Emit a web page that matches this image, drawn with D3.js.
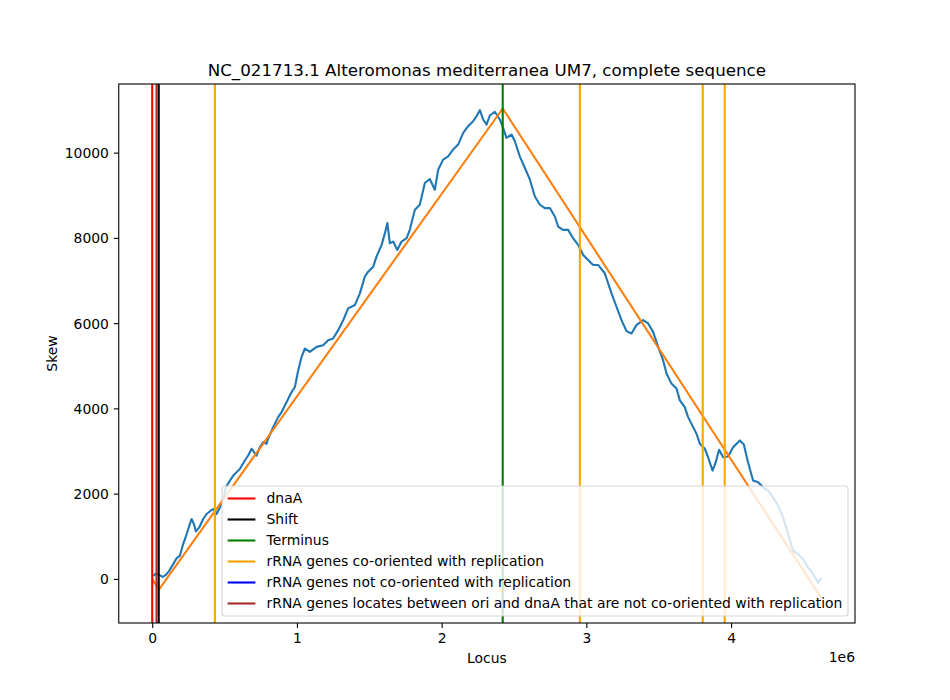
<!DOCTYPE html>
<html>
<head>
<meta charset="utf-8">
<script src="https://cdn.jsdelivr.net/npm/d3@7.9.0/dist/d3.min.js"></script>
<style>
  body { margin: 0; background: #fff; }
  svg { font-family: 'DejaVu Sans', sans-serif; }
</style>
</head>
<body>
<div id="chart"></div>
<script>
// cumulative skew, locus in bp
const skewLocus = [
  7000, 26000, 48000, 72000, 95000, 117000, 145000, 169000, 191000, 214000,
  238000, 260000, 272000, 288000, 302000, 325000, 352000, 376000, 410000, 426000,
  445000, 468000, 491000, 509000, 537000, 560000, 606000, 640000, 663000, 687000,
  721000, 744000, 767000, 790000, 801000, 836000, 870000, 894000, 929000, 963000,
  986000, 1009000, 1032000, 1055000, 1089000, 1136000, 1181000, 1216000, 1250000, 1285000,
  1320000, 1354000, 1400000, 1435000, 1469000, 1492000, 1527000, 1550000, 1585000, 1608000,
  1625000, 1642000, 1665000, 1693000, 1723000, 1758000, 1780000, 1815000, 1849000, 1884000,
  1918000, 1953000, 1976000, 2010000, 2045000, 2079000, 2114000, 2149000, 2183000, 2218000,
  2241000, 2264000, 2287000, 2310000, 2333000, 2367000, 2402000, 2425000, 2448000, 2483000,
  2506000, 2540000, 2575000, 2610000, 2644000, 2679000, 2713000, 2748000, 2782000, 2805000,
  2839000, 2874000, 2908000, 2943000, 2978000, 3012000, 3047000, 3081000, 3127000, 3174000,
  3208000, 3243000, 3277000, 3312000, 3346000, 3392000, 3427000, 3461000, 3496000, 3530000,
  3554000, 3588000, 3623000, 3646000, 3680000, 3703000, 3738000, 3761000, 3784000, 3819000,
  3841000, 3872000, 3894000, 3917000, 3945000, 3979000, 4014000, 4060000, 4088000, 4117000,
  4152000, 4187000, 4221000, 4256000, 4290000, 4325000, 4359000, 4394000, 4428000, 4463000,
  4497000, 4532000, 4567000, 4601000, 4625000
];
const skewValue = [
  71, 125, 94, 47, 94, 188, 346, 487, 541, 817,
  1052, 1287, 1405, 1287, 1113, 1207, 1405, 1522, 1616, 1640,
  1522, 1678, 1875, 2148, 2306, 2424, 2581, 2777, 2894, 3052,
  2894, 3090, 3207, 3169, 3287, 3560, 3795, 3913, 4148, 4384,
  4501, 4894, 5207, 5405, 5325, 5443, 5482, 5600, 5640, 5835,
  6071, 6346, 6424, 6699, 7090, 7207, 7325, 7560, 7836, 8111,
  8346, 7875, 7913, 7718, 7913, 7993, 8188, 8659, 8777, 9287,
  9381, 9130, 9600, 9835, 9913, 10071, 10188, 10464, 10619, 10737,
  10854, 10995, 10777, 10659, 10871, 10958, 10777, 10582, 10346, 10424,
  10266, 9913, 9640, 9365, 8972, 8777, 8699, 8699, 8501, 8266,
  8188, 8188, 7993, 7836, 7600, 7482, 7365, 7365, 7170, 6699,
  6384, 6071, 5812, 5758, 5953, 6071, 5993, 5795, 5442, 5130,
  4817, 4581, 4464, 4188, 4031, 3795, 3560, 3405, 3170, 3052,
  2854, 2541, 2737, 3028, 2854, 2871, 3090, 3247, 3153, 2737,
  2306, 2266, 2148, 2071, 1913, 1718, 1442, 1052, 659, 581,
  464, 266, 111, -87, 31
];

// fitted model
const fitLocus = [0, 46000, 2422000, 4625000];
const fitValue = [0, -250, 11035, -460];

// markers
const dnaA = [0];
const shift = [45000];
const terminus = [2422000];
const rrnaCo = [433000, 2955000, 3804000, 3956000];
const rrnaNotCo = [];
const rrnaBetween = [30000];

const legendLabels = [
  'dnaA', 'Shift', 'Terminus',
  'rRNA genes co-oriented with replication',
  'rRNA genes not co-oriented with replication',
  'rRNA genes locates between ori and dnaA that are not co-oriented with replication'
];
const legendColors = ['red', 'black', 'green', 'orange', 'blue', 'brown'];

const xTicks = [0, 1e6, 2e6, 3e6, 4e6];
const yTicks = [0, 2000, 4000, 6000, 8000, 10000];

const width = 950;
const height = 700;
const usableArea = { left: 118.75, right: 855, top: 84, bottom: 623 };

const svg = d3.select('#chart')
  .append('svg')
  .attr('width', width)
  .attr('height', height);

svg.append('rect').attr('width', width).attr('height', height).attr('fill', '#fff');

// matplotlib-ish 5% margins
const xExt = d3.extent(skewLocus.concat(fitLocus));
const yExt = d3.extent(skewValue.concat(fitValue));
const xPad = (xExt[1] - xExt[0]) * 0.05;
const yPad = (yExt[1] - yExt[0]) * 0.05;

const xScale = d3.scaleLinear()
  .domain([xExt[0] - xPad, xExt[1] + xPad])
  .range([usableArea.left, usableArea.right]);
const yScale = d3.scaleLinear()
  .domain([yExt[0] - yPad, yExt[1] + yPad])
  .range([usableArea.bottom, usableArea.top]);

svg.append('defs').append('clipPath').attr('id', 'clip')
  .append('rect')
  .attr('x', usableArea.left).attr('y', usableArea.top)
  .attr('width', usableArea.right - usableArea.left)
  .attr('height', usableArea.bottom - usableArea.top);

const plot = svg.append('g').attr('clip-path', 'url(#clip)');

const line = d3.line().x((d) => xScale(d[0])).y((d) => yScale(d[1]));

plot.append('path')
  .datum(skewLocus.map((x, i) => [x, skewValue[i]]))
  .attr('d', line)
  .attr('fill', 'none')
  .attr('stroke', '#1f77b4')
  .attr('stroke-width', 2.1)
  .attr('stroke-linejoin', 'round');

plot.append('path')
  .datum(fitLocus.map((x, i) => [x, fitValue[i]]))
  .attr('d', line)
  .attr('fill', 'none')
  .attr('stroke', '#ff7f0e')
  .attr('stroke-width', 2.1);

// vertical marker lines
const vlines = [
  ...dnaA.map((x) => ({ x, c: 'red' })),
  ...shift.map((x) => ({ x, c: 'black' })),
  ...terminus.map((x) => ({ x, c: 'green' })),
  ...rrnaCo.map((x) => ({ x, c: 'orange' })),
  ...rrnaNotCo.map((x) => ({ x, c: 'blue' })),
  ...rrnaBetween.map((x) => ({ x, c: 'brown' })),
];
plot.selectAll('line.vline')
  .data(vlines)
  .join('line')
  .attr('class', 'vline')
  .attr('x1', (d) => xScale(d.x)).attr('x2', (d) => xScale(d.x))
  .attr('y1', usableArea.top).attr('y2', usableArea.bottom)
  .attr('stroke', (d) => d.c)
  .attr('stroke-width', 2.1);

// axes
const xAxis = svg.append('g')
  .attr('transform', `translate(0, ${usableArea.bottom})`)
  .call(d3.axisBottom(xScale).tickValues(xTicks).tickFormat((d) => d / 1e6).tickSize(4.9).tickPadding(4.9));
const yAxis = svg.append('g')
  .attr('transform', `translate(${usableArea.left}, 0)`)
  .call(d3.axisLeft(yScale).tickValues(yTicks).tickFormat((d) => d).tickSize(4.9).tickPadding(4.9));

[xAxis, yAxis].forEach((g) => {
  g.select('.domain').remove();
  g.selectAll('.tick line').attr('stroke', '#000').attr('stroke-width', 1.1);
  g.selectAll('.tick text')
    .attr('font-family', 'DejaVu Sans')
    .attr('font-size', 13.9)
    .attr('fill', '#000');
});
yAxis.selectAll('.tick text').attr('dy', '0.35em');

svg.append('rect')
  .attr('x', usableArea.left).attr('y', usableArea.top)
  .attr('width', usableArea.right - usableArea.left)
  .attr('height', usableArea.bottom - usableArea.top)
  .attr('fill', 'none')
  .attr('stroke', '#000')
  .attr('stroke-width', 1.1);

svg.append('text')
  .attr('x', usableArea.right).attr('y', 662)
  .attr('text-anchor', 'end')
  .attr('font-size', 13.9)
  .text('1e6');

svg.append('text')
  .attr('x', (usableArea.left + usableArea.right) / 2).attr('y', 663)
  .attr('text-anchor', 'middle')
  .attr('font-size', 13.9)
  .text('Locus');

svg.append('text')
  .attr('transform', `translate(57, ${(usableArea.top + usableArea.bottom) / 2}) rotate(-90)`)
  .attr('text-anchor', 'middle')
  .attr('font-size', 13.9)
  .text('Skew');

svg.append('text')
  .attr('x', (usableArea.left + usableArea.right) / 2).attr('y', 76)
  .attr('text-anchor', 'middle')
  .attr('font-size', 16.7)
  .text('NC_021713.1 Alteromonas mediterranea UM7, complete sequence');

// legend
const fs = 13.9;
const legend = svg.append('g');
const frame = legend.append('rect');
const rows = legend.selectAll('g.row')
  .data(legendLabels)
  .join('g')
  .attr('class', 'row');

const texts = rows.append('text')
  .attr('font-size', fs)
  .attr('dy', '0.35em')
  .text((d) => d);
const maxW = d3.max(texts.nodes(), (n) => n.getComputedTextLength());
const boxW = 5.6 + 27.8 + 11.1 + maxW + 5.6;
const boxH = 130;
const boxX = usableArea.right - 7 - boxW;
const boxY = usableArea.bottom - 7 - boxH;

frame
  .attr('x', boxX).attr('y', boxY)
  .attr('width', boxW).attr('height', boxH)
  .attr('rx', 3)
  .attr('fill', '#fff').attr('fill-opacity', 0.8)
  .attr('stroke', '#cccccc').attr('stroke-opacity', 0.8)
  .attr('stroke-width', 1.1);

rows.attr('transform', (d, i) => `translate(${boxX}, ${boxY + 12.5 + i * 21})`);
rows.append('line')
  .attr('x1', 5.6).attr('x2', 5.6 + 27.8)
  .attr('stroke', (d, i) => legendColors[i])
  .attr('stroke-width', 2.1);
texts.attr('x', 5.6 + 27.8 + 11.1);
</script>
</body>
</html>
